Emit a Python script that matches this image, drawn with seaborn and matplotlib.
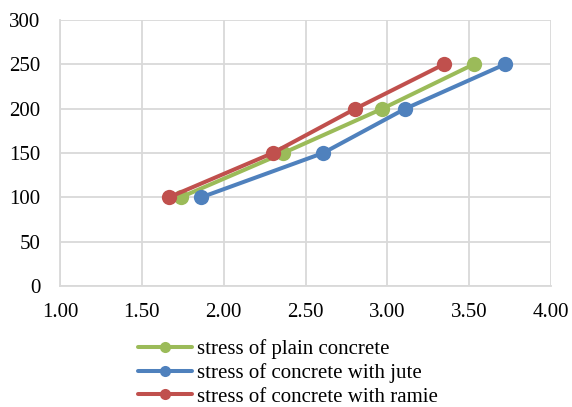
import matplotlib
matplotlib.use("Agg")
import matplotlib.pyplot as plt
from matplotlib.lines import Line2D
import seaborn as sns
import pandas as pd

stress = [100, 150, 200, 250]
strain_plain = [1.737, 2.365, 2.97, 3.527]
strain_jute = [1.863, 2.608, 3.11, 3.718]
strain_ramie = [1.665, 2.30, 2.805, 3.345]
labels = ["stress of plain concrete", "stress of concrete with jute", "stress of concrete with ramie"]
colors = ["#9BBB59", "#4F81BD", "#C0504D"]
x_ticks = [1.00, 1.50, 2.00, 2.50, 3.00, 3.50, 4.00]
y_ticks = [0, 50, 100, 150, 200, 250, 300]

sns.set_style("white")
plt.rcParams['font.family'] = 'serif'
plt.rcParams['font.serif'] = ['Liberation Serif', 'DejaVu Serif']
plt.rcParams['text.color'] = 'black'
FAM = ['Liberation Serif', 'DejaVu Serif']

fig = plt.figure(figsize=(5.72, 4.07), dpi=100)
ax = fig.add_axes([60/572, 1-286/407, (551-60)/572, (286-20)/407])

for xs, col in zip([strain_plain, strain_jute, strain_ramie], colors):
    df = pd.DataFrame({"x": xs, "y": stress})
    sns.lineplot(data=df, x="x", y="y", ax=ax, color=col, linewidth=2.9,
                 marker="o", markersize=11, markeredgewidth=0, sort=False,
                 legend=False)

ax.set_xlim(1.0, 4.0)
ax.set_ylim(0, 300)
ax.set_xticks(x_ticks)
ax.set_xticklabels([f"{v:.2f}" for v in x_ticks], family=FAM, fontsize=15)
ax.set_yticks(y_ticks)
ax.set_yticklabels([str(v) for v in y_ticks], family=FAM, fontsize=15)
ax.grid(True, color="#D9D9D9", linewidth=1.3)
ax.set_axisbelow(True)
for s in ["top", "right"]:
    ax.spines[s].set_visible(False)
for s in ["left", "bottom"]:
    ax.spines[s].set_color("#D9D9D9")
    ax.spines[s].set_linewidth(1.3)
ax.tick_params(axis="both", length=0, colors="black")
ax.tick_params(axis="x", pad=12)
ax.tick_params(axis="y", pad=14)
ax.set_xlabel("")
ax.set_ylabel("")

leg_handles = [Line2D([], [], color=c, linewidth=2.9, marker="o", markersize=8,
                      markeredgewidth=0) for c in colors]
leg = fig.legend(leg_handles, labels, loc="upper left", bbox_to_anchor=(138/572, 1-339/407),
                 frameon=False, prop={"family": FAM, "size": 15},
                 handlelength=2.6, handletextpad=0.25,
                 labelspacing=0.2, borderaxespad=0, borderpad=0)
for t in leg.get_texts():
    t.set_color("black")

fig.savefig("out.png", dpi=100)
